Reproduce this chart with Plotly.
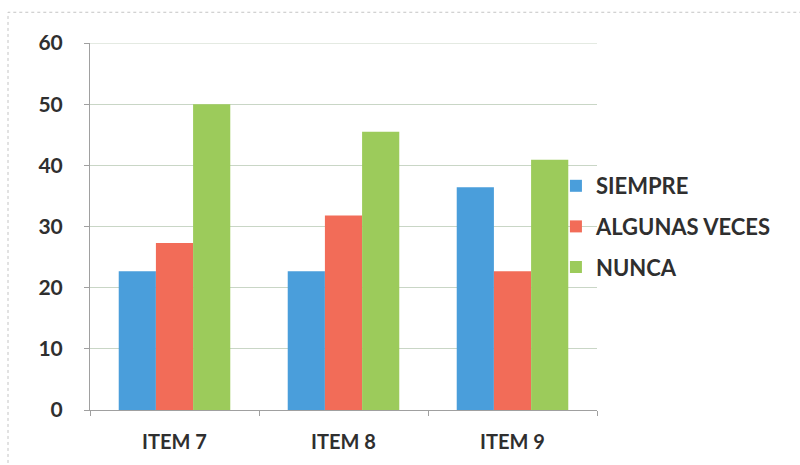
import plotly.graph_objects as go

categories = ["ITEM 7", "ITEM 8", "ITEM 9"]
siempre = [22.7, 22.7, 36.4]
algunas_veces = [27.3, 31.8, 22.7]
nunca = [50.0, 45.5, 40.9]

series_names = ["SIEMPRE", "ALGUNAS VECES", "NUNCA"]
series_colors = ["#4A9EDB", "#F26C58", "#9CCB5B"]
y_ticks = [0, 10, 20, 30, 40, 50, 60]

FONT = "Lato"
TEXT_COLOR = "#2f2f2f"
GRID_COLOR = "#c9d6c6"

fig = go.Figure()
for name, vals, color in zip(series_names, [siempre, algunas_veces, nunca], series_colors):
    fig.add_trace(go.Bar(
        x=categories, y=vals, name=name, legendgroup=name,
        marker=dict(color=color, line=dict(width=0)),
    ))

# Top gridline at the axis maximum
fig.add_hline(y=y_ticks[-1], line=dict(color=GRID_COLOR, width=1), layer="below")

# Outer chart-area frame
W, H = 800, 465
ml, mr, mt, mb = 90, 203, 43, 52
pw, ph = W - ml - mr, H - mt - mb
fig.add_shape(
    type="rect", xref="paper", yref="paper",
    x0=(8 - ml) / pw, x1=(W + 5 - ml) / pw,
    y0=-(H + 5 - (H - mb)) / ph, y1=1 + (mt - 12) / ph,
    line=dict(color="#c4c4c4", width=1, dash="dot"),
    fillcolor="rgba(0,0,0,0)", layer="below",
)

fig.update_layout(
    width=W, height=H,
    margin=dict(l=ml, r=mr, t=mt, b=mb),
    paper_bgcolor="white", plot_bgcolor="white",
    barmode="group", bargap=0.34, bargroupgap=0,
    font=dict(family=FONT, size=17, color=TEXT_COLOR),
    legend=dict(
        x=0.919, xanchor="left", y=0.5, yanchor="middle",
        traceorder="grouped", tracegroupgap=9,
        font=dict(family=FONT, size=22, color=TEXT_COLOR, weight="bold"),
        bgcolor="rgba(0,0,0,0)", itemwidth=30,
    ),
    xaxis=dict(
        showgrid=False, showline=True, linecolor="#a0a0a0", linewidth=1,
        ticks="outside", ticklen=5, tickcolor="#a0a0a0", tickson="boundaries",
        ticklabelstandoff=14,
        tickfont=dict(family=FONT, size=20, color=TEXT_COLOR, weight="bold"),
    ),
    yaxis=dict(
        range=[0, 60], tickvals=y_ticks,
        showgrid=True, gridcolor=GRID_COLOR, gridwidth=1,
        showline=True, linecolor="#a0a0a0", linewidth=1,
        ticks="outside", ticklen=5, tickcolor="#a0a0a0",
        ticklabelstandoff=17, zeroline=False,
        tickfont=dict(family=FONT, size=21, color=TEXT_COLOR, weight="bold"),
    ),
)

fig.write_html("out.html")
